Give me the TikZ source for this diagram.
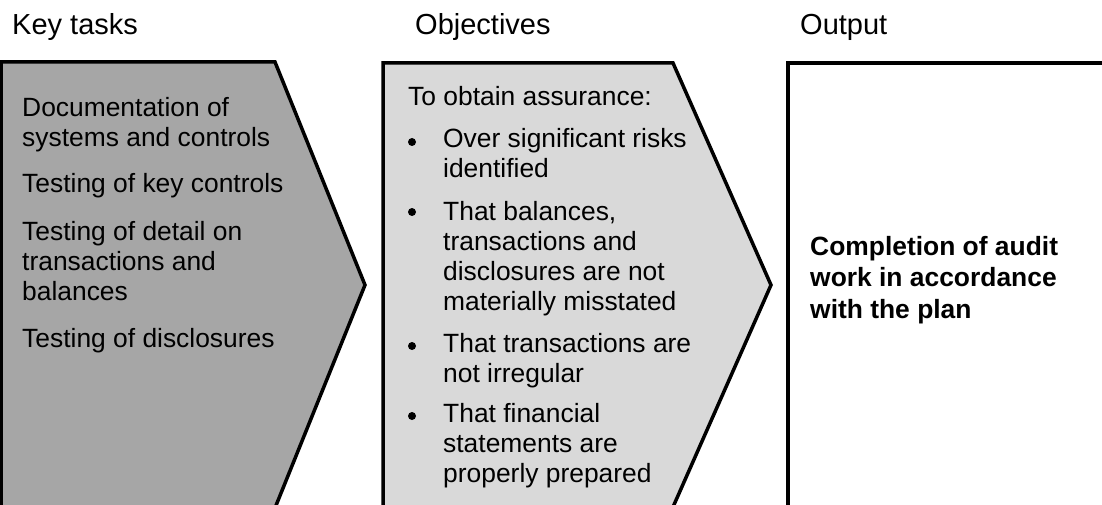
\documentclass[tikz,border=0pt]{standalone}
\usepackage{fontspec}
\setmainfont{Liberation Sans}
\usetikzlibrary{positioning}
\definecolor{taskgray}{HTML}{A6A6A6}
\definecolor{objgray}{HTML}{D9D9D9}
\tikzstyle{head}=[anchor=base west,inner sep=0pt,font=\fontsize{29}{34}\selectfont]
\tikzstyle{txt}=[anchor=base west,inner sep=0pt,align=left,font=\fontsize{26.4}{30}\selectfont]
\tikzstyle{bul}=[fill,shape=circle,minimum size=8pt,inner sep=0pt]
\tikzstyle{panel}=[draw,line width=3.5pt,line join=miter]

\begin{document}
\begin{tikzpicture}[x=1pt,y=-1pt]
\useasboundingbox (0,0) rectangle (1102,505);
% the three panels
\draw[panel,fill=taskgray] (1,62) -- (275,62) -- (365,285) -- (275,508) -- (1,508) -- cycle;
\draw[panel,fill=objgray] (383,63) -- (673,63) -- (771,285) -- (673,507) -- (383,507) -- cycle;
\draw[panel] (1110,63) -- (788,63) -- (788,515);
% headings
\node[head] (keyhead) at (12,35) {Key tasks};
\node[head] (objhead) at (415,35) {Objectives};
\node[head] (outhead) at (800,35) {Output};
% key tasks (base = last line)
\node[txt] (task1) at (22,147) {Documentation of\\systems and controls};
\node[txt] (task2) at (22,193) {Testing of key controls};
\node[txt] (task3) at (22,300) {Testing of detail on\\transactions and\\balances};
\node[txt] (task4) at (22,347) {Testing of disclosures};
% objectives
\node[txt] (intro) at (408,106) {To obtain assurance:};
\node[txt] (obj1) at (443,178) {Over significant risks\\identified};
\node[txt] (obj2) at (443,310) {That balances,\\transactions and\\disclosures are not\\materially misstated};
\node[txt] (obj3) at (443,382) {That transactions are\\not irregular};
\node[txt] (obj4) at (443,482) {That financial\\statements are\\properly prepared};
\node[bul] (bul1) at (412,142) {};
\node[bul] (bul2) at (412,212) {};
\node[bul] (bul3) at (412,346) {};
\node[bul] (bul4) at (412,416) {};
% output
\node[txt,font=\fontsize{26.4}{31.5}\selectfont\bfseries] (result) at (810,318) {Completion of audit\\work in accordance\\with the plan};
\end{tikzpicture}
\end{document}
